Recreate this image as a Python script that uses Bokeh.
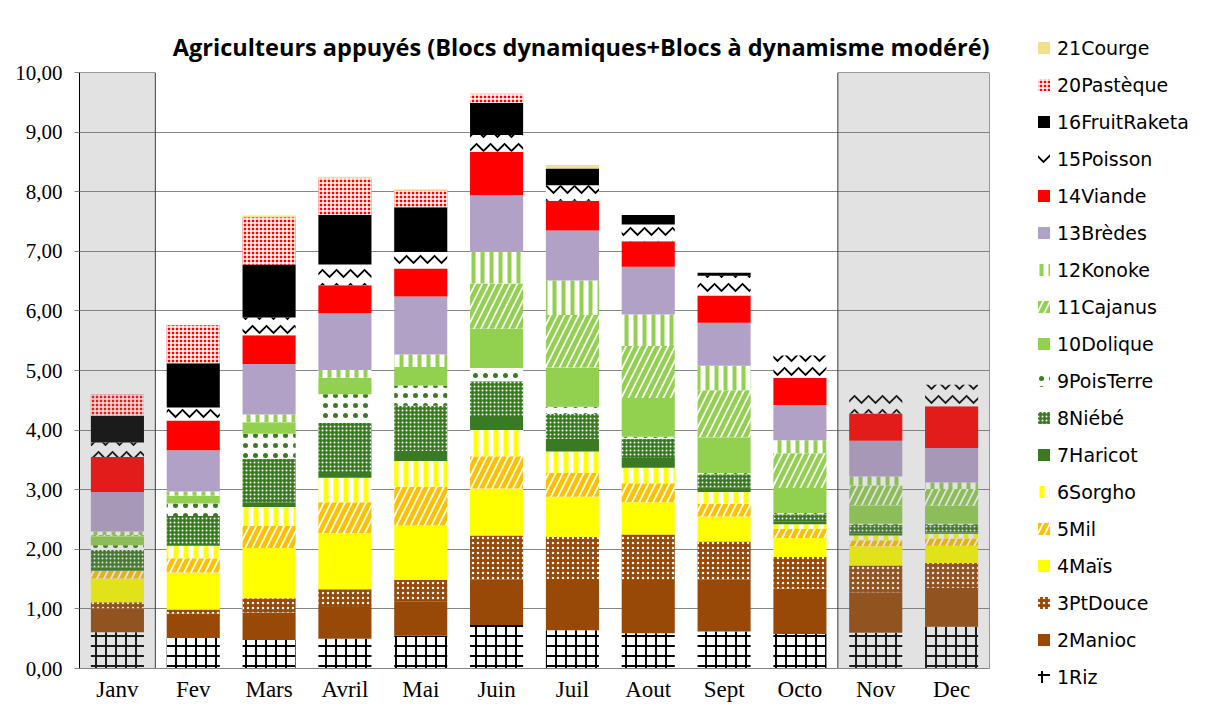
import numpy as np
from bokeh.plotting import figure
from bokeh.layouts import row
from bokeh.models import (Legend, LegendItem, Title, FixedTicker, Range1d,
                          FactorRange, ColumnDataSource)
from bokeh.embed import file_html
from bokeh.resources import INLINE

months = ["Janv", "Fev", "Mars", "Avril", "Mai", "Juin", "Juil", "Aout",
          "Sept", "Octo", "Nov", "Dec"]
shaded_months = ["Janv", "Nov", "Dec"]

riz       = [0.61, 0.51, 0.48, 0.50, 0.55, 0.73, 0.64, 0.59, 0.62, 0.58, 0.60, 0.70]
manioc    = [0.40, 0.41, 0.46, 0.53, 0.58, 0.76, 0.86, 0.88, 0.87, 0.76, 0.68, 0.65]
ptdouce   = [0.10, 0.07, 0.24, 0.30, 0.36, 0.74, 0.71, 0.78, 0.64, 0.53, 0.45, 0.42]
mais      = [0.40, 0.62, 0.84, 0.94, 0.91, 0.79, 0.67, 0.54, 0.42, 0.32, 0.32, 0.29]
mil       = [0.13, 0.24, 0.37, 0.52, 0.65, 0.54, 0.40, 0.32, 0.22, 0.15, 0.10, 0.12]
sorgho    = [0.00, 0.21, 0.32, 0.41, 0.43, 0.44, 0.36, 0.26, 0.19, 0.08, 0.08, 0.08]
haricot   = [0.05, 0.03, 0.08, 0.08, 0.17, 0.22, 0.21, 0.16, 0.08, 0.05, 0.04, 0.02]
niebe     = [0.30, 0.47, 0.73, 0.84, 0.76, 0.60, 0.42, 0.32, 0.22, 0.12, 0.14, 0.13]
poisterre = [0.08, 0.21, 0.42, 0.48, 0.34, 0.22, 0.12, 0.04, 0.02, 0.02, 0.02, 0.02]
dolique   = [0.15, 0.13, 0.19, 0.28, 0.31, 0.66, 0.66, 0.65, 0.60, 0.42, 0.31, 0.30]
cajanus   = [0.02, 0.00, 0.00, 0.00, 0.00, 0.76, 0.88, 0.87, 0.79, 0.58, 0.33, 0.28]
konoke    = [0.06, 0.07, 0.13, 0.13, 0.21, 0.53, 0.58, 0.53, 0.41, 0.22, 0.15, 0.11]
bredes    = [0.66, 0.69, 0.85, 0.95, 0.97, 0.95, 0.84, 0.80, 0.72, 0.59, 0.60, 0.58]
viande    = [0.59, 0.50, 0.48, 0.47, 0.47, 0.73, 0.50, 0.43, 0.46, 0.46, 0.46, 0.70]
poisson   = [0.24, 0.22, 0.30, 0.35, 0.28, 0.28, 0.26, 0.28, 0.33, 0.37, 0.35, 0.36]
fruit     = [0.45, 0.74, 0.89, 0.83, 0.75, 0.54, 0.28, 0.16, 0.05, 0.00, 0.00, 0.00]
pasteque  = [0.36, 0.64, 0.79, 0.62, 0.28, 0.15, 0.00, 0.00, 0.00, 0.00, 0.00, 0.00]
courge    = [0.00, 0.00, 0.03, 0.02, 0.02, 0.01, 0.06, 0.00, 0.00, 0.00, 0.00, 0.00]

series_names = ["1Riz", "2Manioc", "3PtDouce", "4Maïs", "5Mil", "6Sorgho",
                "7Haricot", "8Niébé", "9PoisTerre", "10Dolique", "11Cajanus",
                "12Konoke", "13Brèdes", "14Viande", "15Poisson",
                "16FruitRaketa", "20Pastèque", "21Courge"]
series_values = [riz, manioc, ptdouce, mais, mil, sorgho, haricot, niebe,
                 poisterre, dolique, cajanus, konoke, bredes, viande, poisson,
                 fruit, pasteque, courge]

y_ticks = [0, 1, 2, 3, 4, 5, 6, 7, 8, 9, 10]
y_tick_labels = ["0,00", "1,00", "2,00", "3,00", "4,00", "5,00", "6,00",
                 "7,00", "8,00", "9,00", "10,00"]

title_text = "Agriculteurs appuyés (Blocs dynamiques+Blocs à dynamisme modéré)"

# styles: fill, hatch pattern, hatch colour, hatch scale, hatch weight
styles = [
    ("white",   "+", "black",   10, 2.0),   # Riz
    ("#984807", " ", None,       8, 1.0),   # Manioc
    ("#984807", ".", "white",    5, 1.0),   # PtDouce
    ("#FFFF00", " ", None,       8, 1.0),   # Maïs
    ("white",   "/", "#FFC000", 14, 4.5),   # Mil
    ("white",   "|", "#FFFF00", 10, 5.0),   # Sorgho
    ("#3A7A22", " ", None,       8, 1.0),   # Haricot
    ("#3A7A22", ".", "white",    4, 1.0),   # Niébé
    ("white",   ".", "#3A7A22", 10, 1.0),   # PoisTerre
    ("#92D050", " ", None,       8, 1.0),   # Dolique
    ("white",   "/", "#92D050", 14, 4.5),   # Cajanus
    ("white",   "|", "#92D050",  9, 4.0),   # Konoke
    ("#B2A1C7", " ", None,       8, 1.0),   # Brèdes
    ("#FF0000", " ", None,       8, 1.0),   # Viande
    ("white",   "v", "black",   14, 1.8),   # Poisson
    ("#000000", " ", None,       8, 1.0),   # FruitRaketa
    ("#FF0000", "+", "white",    4, 1.5),   # Pastèque
    ("#F3E08F", " ", None,       8, 1.0),   # Courge
]


def style_kw(st):
    fill, hp, hc, hs, hw = st
    kw = dict(fill_color=fill, line_color=None)
    if hp != " ":
        kw.update(hatch_pattern=hp, hatch_color=hc, hatch_scale=hs,
                  hatch_weight=hw)
    return kw


# ---------------- main chart ----------------
p = figure(x_range=FactorRange(*months, range_padding=0),
           y_range=Range1d(0, 10),
           width=1000, height=704, output_backend="svg",
           toolbar_location=None, tools="",
           min_border_left=79, min_border_right=11,
           min_border_top=72, min_border_bottom=36)
p.outline_line_color = None
p.background_fill_color = "white"
p.frame_align = False

p.title = Title(text=title_text, align="right", text_font="Open Sans",
                text_font_size="23.5px", text_font_style="bold",
                text_color="black", standoff=19)

bottom = np.zeros(len(months))
for name, vals, st in zip(series_names, series_values, styles):
    vals = np.array(vals, dtype=float)
    top = bottom + vals
    src = ColumnDataSource(dict(x=months, bottom=bottom.copy(), top=top.copy()))
    p.vbar(x="x", bottom="bottom", top="top", width=0.7, source=src,
           **style_kw(st))
    bottom = top

# shaded months (grey translucent boxes over the bars)
idx = [months.index(m) for m in shaded_months]
groups = []
for i in idx:
    if groups and groups[-1][1] == i:
        groups[-1][1] = i + 1
    else:
        groups.append([i, i + 1])
p.quad(left=[g[0] for g in groups], right=[g[1] for g in groups],
       bottom=[y_ticks[0]] * len(groups), top=[y_ticks[-1]] * len(groups),
       fill_color="#7D7D7D", fill_alpha=0.22, line_color="#3C3C3C",
       line_width=1)

p.yaxis.ticker = FixedTicker(ticks=y_ticks)
p.yaxis.major_label_overrides = dict(zip(y_ticks, y_tick_labels))
p.yaxis.major_label_text_font = "Liberation Serif"
p.yaxis.major_label_text_font_size = "21px"
p.yaxis.major_label_text_color = "black"
p.yaxis.axis_line_color = "black"
p.yaxis.major_tick_line_color = "#868686"
p.yaxis.major_tick_out = 5
p.yaxis.major_tick_in = 0
p.yaxis.minor_tick_line_color = None
p.yaxis.major_label_standoff = 12

p.xaxis.major_label_text_font = "Liberation Serif"
p.xaxis.major_label_text_font_size = "23px"
p.xaxis.major_label_text_color = "black"
p.xaxis.axis_line_color = "#868686"
p.xaxis.major_tick_line_color = None
p.xaxis.major_tick_out = 0
p.xaxis.major_tick_in = 0
p.xaxis.major_label_standoff = 8

p.xgrid.grid_line_color = None
p.ygrid.grid_line_color = "#868686"
p.ygrid.grid_line_width = 1

# ---------------- legend panel ----------------
pl = figure(width=214, height=704, output_backend="svg",
            toolbar_location=None, tools="", title=None,
            x_range=Range1d(0, 1), y_range=Range1d(0, 1),
            x_axis_type=None, y_axis_type=None,
            min_border_left=0, min_border_right=0,
            min_border_top=0, min_border_bottom=0)
pl.outline_line_color = None
pl.xgrid.visible = False
pl.ygrid.visible = False
pl.frame_align = False

items = []
for name, st in zip(series_names, styles):
    # zero-height bar: only serves as the legend swatch
    r = pl.vbar(x=[0.5], bottom=[0], top=[0], width=0.7, **style_kw(st))
    items.append(LegendItem(label=name, renderers=[r]))
items = items[::-1]

legend = Legend(items=items, location="top_left", orientation="vertical",
                glyph_width=15, glyph_height=15, label_height=23,
                spacing=14, padding=0, margin=36,
                label_text_font="DejaVu Sans", label_text_font_size="19px",
                label_text_color="black", label_standoff=6,
                border_line_color=None, background_fill_alpha=0)
pl.add_layout(legend, "center")

layout = row(p, pl)
open("out.html", "w").write(file_html(layout, INLINE))
